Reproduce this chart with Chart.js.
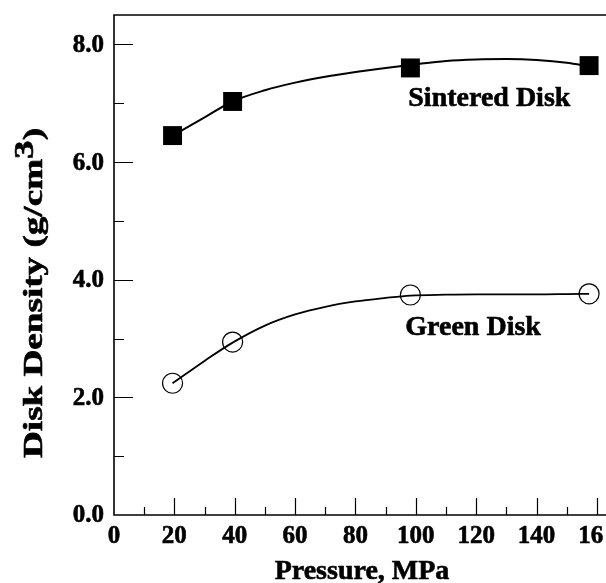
<!DOCTYPE html>
<html>
<head>
<meta charset="utf-8">
<script src="https://cdn.jsdelivr.net/npm/chart.js@4/dist/chart.umd.min.js"></script>
<style>
  html, body { margin: 0; padding: 0; background: #ffffff; }
  #wrap { width: 606px; height: 583px; }
</style>
</head>
<body>
<div id="wrap"><canvas id="chart" width="606" height="583"></canvas></div>
<script>
// Measured disk densities (g/cm^3) against compaction pressure (MPa)
const pressure = [19.4, 39.3, 98.2, 157.4];
const sinteredDensity = [6.45, 7.03, 7.60, 7.64];
const greenDensity = [2.24, 2.94, 3.74, 3.76];

// Smooth trend curves through each series
const curvePressure = [19.4, 30, 39.3, 50, 60, 70, 80, 90, 98.2, 110, 120, 130, 140, 150, 157.4];
const sinteredCurve = [6.45, 6.76, 7.03, 7.22, 7.35, 7.45, 7.53, 7.60, 7.65, 7.72, 7.745, 7.75, 7.735, 7.69, 7.63];
const greenCurve = [2.24, 2.62, 2.93, 3.22, 3.41, 3.54, 3.63, 3.69, 3.73, 3.745, 3.75, 3.75, 3.75, 3.755, 3.76];

// Axis ticks
const xTickValues = [0, 20, 40, 60, 80, 100, 120, 140, 160];
const xTickLabels = ['0', '20', '40', '60', '80', '100', '120', '140', '16'];
const xMinorValues = [10, 30, 50, 70, 90, 110, 130, 150];
const yTickValues = [0, 2, 4, 6, 8];
const yTickLabels = ['0.0', '2.0', '4.0', '6.0', '8.0'];
const yMinorValues = [1, 3, 5, 7];

const FONT = "'Liberation Serif', 'Times New Roman', Times, serif";

function pts(xs, ys) { return xs.map((x, i) => ({ x: x, y: ys[i] })); }

// Heavy text: fill plus a thin outline of the same colour
function heavyText(ctx, text, x, y) {
  ctx.fillText(text, x, y);
  ctx.strokeText(text, x, y);
}

// Frame, inward ticks, tick labels, axis titles and curve labels
const framePlugin = {
  id: 'frameAxes',
  afterDatasetsDraw(chart) {
    const ctx = chart.ctx;
    const xs = chart.scales.x, ys = chart.scales.y;
    const a = chart.chartArea;
    ctx.save();
    ctx.strokeStyle = '#000';
    ctx.fillStyle = '#000';

    // frame
    ctx.lineWidth = 1.6;
    ctx.beginPath();
    ctx.moveTo(a.right + 2, a.top);
    ctx.lineTo(a.left, a.top);
    ctx.lineTo(a.left, a.bottom);
    ctx.lineTo(a.right + 2, a.bottom);
    ctx.stroke();

    // ticks pointing into the plot
    ctx.lineWidth = 1.2;
    ctx.beginPath();
    xTickValues.forEach(v => {
      if (v === 0) return;
      const p = Math.round(xs.getPixelForValue(v)) + 0.5;
      ctx.moveTo(p, a.bottom); ctx.lineTo(p, a.bottom - 17);
    });
    xMinorValues.forEach(v => {
      const p = Math.round(xs.getPixelForValue(v)) + 0.5;
      ctx.moveTo(p, a.bottom); ctx.lineTo(p, a.bottom - 8);
    });
    yTickValues.forEach(v => {
      if (v === 0) return;
      const p = Math.round(ys.getPixelForValue(v)) + 0.5;
      ctx.moveTo(a.left, p); ctx.lineTo(a.left + 19, p);
    });
    yMinorValues.forEach(v => {
      const p = Math.round(ys.getPixelForValue(v)) + 0.5;
      ctx.moveTo(a.left, p); ctx.lineTo(a.left + 10, p);
    });
    ctx.stroke();

    ctx.lineWidth = 0.6;
    ctx.lineJoin = 'round';

    // tick labels
    ctx.font = 'bold 25px ' + FONT;
    ctx.textBaseline = 'middle';
    ctx.textAlign = 'right';
    yTickValues.forEach((v, i) => {
      heavyText(ctx, yTickLabels[i], a.left - 10, ys.getPixelForValue(v) + 1);
    });
    ctx.textAlign = 'left';
    xTickValues.forEach((v, i) => {
      const full = ctx.measureText(String(v)).width;
      heavyText(ctx, xTickLabels[i], xs.getPixelForValue(v) - full / 2, a.bottom + 22);
    });

    // x axis title
    ctx.font = 'bold 28px ' + FONT;
    ctx.textAlign = 'center';
    ctx.textBaseline = 'alphabetic';
    heavyText(ctx, 'Pressure, MPa', (a.left + a.right) / 2 + 2, 579);

    // y axis title with superscript
    const main = 'Disk Density (g/cm', sup = '3', close = ')';
    const wMain = ctx.measureText(main).width;
    const wSup = ctx.measureText(sup).width;
    const wClose = ctx.measureText(close).width;
    const total = wMain + wSup + wClose;
    const stretch = 330 / total;
    ctx.save();
    ctx.translate(42, 293);
    ctx.rotate(-Math.PI / 2);
    ctx.scale(stretch, 1);
    ctx.textAlign = 'left';
    let x0 = -total / 2;
    heavyText(ctx, main, x0, 0);
    heavyText(ctx, sup, x0 + wMain, -9);
    heavyText(ctx, close, x0 + wMain + wSup, 0);
    ctx.restore();

    // series labels
    ctx.font = 'bold 28px ' + FONT;
    ctx.textAlign = 'left';
    heavyText(ctx, 'Sintered Disk', xs.getPixelForValue(97.5), ys.getPixelForValue(6.95));
    heavyText(ctx, 'Green Disk', xs.getPixelForValue(96.5), ys.getPixelForValue(3.06));

    ctx.restore();
  }
};

new Chart(document.getElementById('chart'), {
  type: 'scatter',
  data: {
    datasets: [
      {
        label: 'Sintered Disk',
        data: pts(pressure, sinteredDensity),
        pointStyle: 'rect',
        pointRadius: 13.4,
        backgroundColor: '#000',
        borderColor: '#000',
        borderWidth: 0,
        showLine: false,
        order: 0
      },
      {
        label: 'Green Disk',
        data: pts(pressure, greenDensity),
        pointStyle: 'circle',
        pointRadius: 10,
        backgroundColor: 'rgba(0,0,0,0)',
        borderColor: '#000',
        borderWidth: 1.2,
        showLine: false,
        order: 0
      },
      {
        label: 'Sintered trend',
        data: pts(curvePressure, sinteredCurve),
        showLine: true,
        pointRadius: 0,
        borderColor: '#000',
        borderWidth: 2,
        cubicInterpolationMode: 'monotone',
        order: 1
      },
      {
        label: 'Green trend',
        data: pts(curvePressure, greenCurve),
        showLine: true,
        pointRadius: 0,
        borderColor: '#000',
        borderWidth: 1.8,
        cubicInterpolationMode: 'monotone',
        order: 1
      }
    ]
  },
  options: {
    responsive: false,
    animation: false,
    devicePixelRatio: 1,
    layout: { autoPadding: false, padding: { left: 114, right: 0, top: 15, bottom: 68 } },
    plugins: { legend: { display: false }, tooltip: { enabled: false } },
    scales: {
      x: { type: 'linear', min: 0, max: 163, display: false },
      y: { type: 'linear', min: 0, max: 8.5, display: false }
    }
  },
  plugins: [framePlugin]
});
</script>
</body>
</html>
